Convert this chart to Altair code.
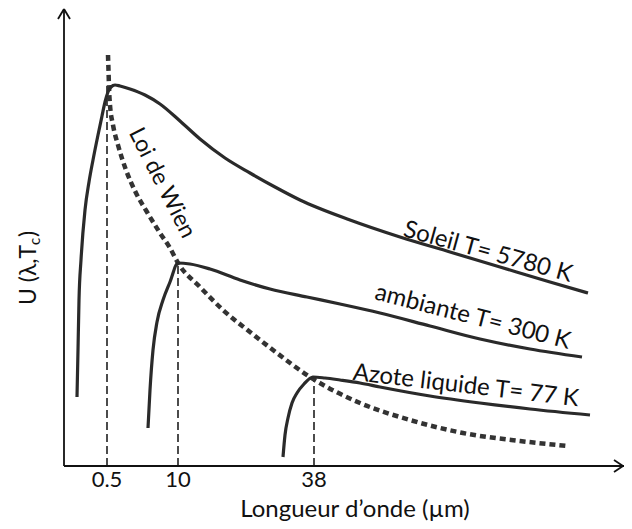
import altair as alt
import pandas as pd

# ---- data (arbitrary units: x = position along the wavelength axis, y = U) ----
soleil_x = [13, 14, 15, 17, 21, 25, 29, 34, 38, 41, 44, 47, 51, 56, 66, 81, 96, 116, 136, 161, 186, 211, 236, 286, 336, 386, 436, 486, 524]
soleil_y = [69, 116, 166, 206, 256, 284, 306, 331, 350, 364, 374, 379, 381, 380, 377, 371, 362, 345, 327, 308, 293, 279, 266, 246, 229, 214, 199, 184, 173]

ambiante_x = [84, 86, 89, 93, 99, 106, 114, 126, 146, 176, 206, 243, 276, 316, 366, 416, 466, 518]
ambiante_y = [38, 76, 116, 144, 166, 184, 203, 202, 197, 186, 177, 169, 162, 153, 140, 127, 117, 109]

azote_x = [219, 221, 224, 228, 233, 240, 249, 261, 276, 296, 316, 366, 416, 466, 526]
azote_y = [9, 31, 48, 63, 73, 82, 89, 88, 86, 83, 79, 70, 63, 57, 51]

wien_x = [44, 44.5, 45, 46, 49, 54, 62, 72, 83, 96, 106, 114, 136, 159, 186, 209, 246, 296, 346, 399, 456, 504]
wien_y = [411, 396, 379, 361, 341, 321, 296, 273, 254, 233, 218, 203, 179, 156, 134, 116, 89, 63, 46, 33, 25, 20]

peak_x = [43, 114, 250]
peak_y = [380, 203, 89]
tick_labels = ["0.5", "10", "38"]

curve_labels = ["Soleil T= 5780 K", "ambiante T= 300 K", "Azote liquide T= 77 K"]
wien_label = "Loi de Wien"
x_title = "Longueur d\u2019onde (\u00b5m)"
y_title_main = "U (\u03bb,T"
y_title_sub = "c"
y_title_end = ")"

# ---- tables ----
rows = []
for name, xs_, ys_ in [("soleil", soleil_x, soleil_y), ("ambiante", ambiante_x, ambiante_y), ("azote", azote_x, azote_y)]:
    for i, (a, b) in enumerate(zip(xs_, ys_)):
        rows.append({"series": name, "x": a, "y": b, "i": i})
curve_df = pd.DataFrame(rows)
wien_df = pd.DataFrame({"x": wien_x, "y": wien_y, "i": list(range(len(wien_x)))})
peak_df = pd.DataFrame({"x": peak_x, "y0": [0] * 3, "top": peak_y, "label": tick_labels, "ly": [-14] * 3})

W, H = 560, 456
xs = alt.Scale(domain=[0, W], nice=False, zero=False)
ys = alt.Scale(domain=[0, H], nice=False, zero=False)
X = lambda f: alt.X(f, type="quantitative", scale=xs, axis=None)
Y = lambda f: alt.Y(f, type="quantitative", scale=ys, axis=None)
FONT = "Lato"
INK = "#111111"
LINE = "#2a2a2a"

curves = alt.Chart(curve_df).mark_line(color=LINE, strokeWidth=3.2, interpolate="monotone", clip=False).encode(
    x=X("x"), y=Y("y"), detail="series:N", order="i:Q")

wien = alt.Chart(wien_df).mark_line(color="#333333", strokeWidth=4.5, strokeDash=[6, 4],
                                    interpolate="monotone", clip=False).encode(x=X("x"), y=Y("y"), order="i:Q")

vlines = alt.Chart(peak_df).mark_rule(color="#000000", strokeWidth=1.4, strokeDash=[8, 4]).encode(
    x=X("x"), y=Y("y0"), y2="top:Q")

ticks = alt.Chart(peak_df).mark_text(font=FONT, fontSize=22, color=INK, baseline="middle", align="center").encode(
    x=X("x"), y=Y("ly"), text="label:N")

# axes with arrow heads
axis_df = pd.DataFrame({
    "x": [0, 0, -6, 6, 550, 550],
    "y": [0, 0, 447, 447, 6, -6],
    "x2": [0, 560, 0, 0, 559, 559],
    "y2": [457, 0, 457, 457, 0, 0],
})
axes = alt.Chart(axis_df).mark_rule(color=INK, strokeWidth=1.8, clip=False).encode(
    x=X("x"), y=Y("y"), x2="x2:Q", y2="y2:Q")

lab_df = pd.DataFrame({
    "text": curve_labels,
    "x": [422, 407, 401],
    "y": [207, 142, 73],
    "a": [15.4, 14.4, 6.7],
})
labels = alt.Chart(lab_df).mark_text(font=FONT, fontSize=24, color=INK, align="center", baseline="alphabetic").encode(
    x=X("x"), y=Y("y"), text="text:N", angle=alt.Angle("a:Q", scale=None))

wien_txt = alt.Chart(pd.DataFrame({"text": [wien_label], "x": [98], "y": [283]})).mark_text(
    font=FONT, fontSize=23, color=INK, align="center", baseline="middle", angle=63).encode(
    x=X("x"), y=Y("y"), text="text:N")

xtitle = alt.Chart(pd.DataFrame({"text": [x_title], "x": [291], "y": [-51]})).mark_text(
    font=FONT, fontSize=24, color=INK, align="center", baseline="alphabetic").encode(
    x=X("x"), y=Y("y"), text="text:N")

yt_df = pd.DataFrame({"text": [y_title_main, y_title_end], "x": [-28.5, -28.5], "y": [161, 229]})
ytitle = alt.Chart(yt_df).mark_text(font=FONT, fontSize=23, color=INK, align="left", baseline="alphabetic",
                                    angle=270).encode(x=X("x"), y=Y("y"), text="text:N")
ysub = alt.Chart(pd.DataFrame({"text": [y_title_sub], "x": [-24], "y": [221]})).mark_text(
    font=FONT, fontSize=15, color=INK, align="left", baseline="alphabetic", angle=270).encode(
    x=X("x"), y=Y("y"), text="text:N")

chart = alt.layer(vlines, wien, curves, axes, ticks, labels, wien_txt, xtitle, ytitle, ysub).properties(
    width=W, height=H,
    autosize=alt.AutoSizeParams(type="none"),
    padding={"left": 56, "top": 2, "right": 0, "bottom": 55},
).configure_view(stroke=None)

chart.save("out.html", embed_options={"renderer": "svg", "actions": False})
